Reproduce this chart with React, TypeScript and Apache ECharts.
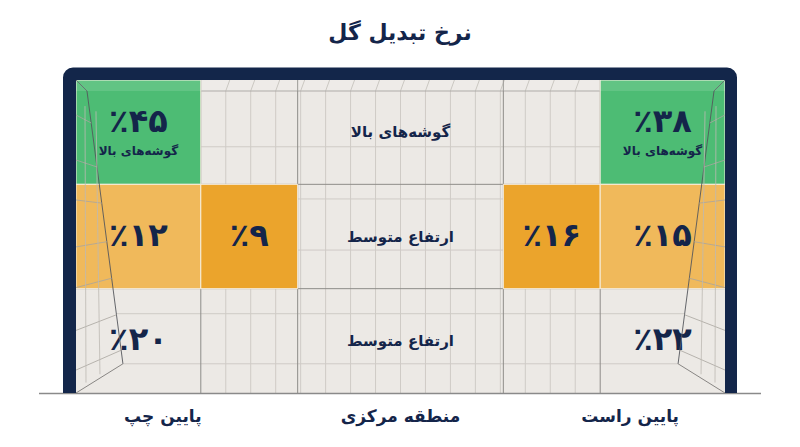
import { useEffect, useRef } from "react";
import * as echarts from "echarts";

const chartTitle = "نرخ تبدیل گل";
const rowLabels = ["گوشه‌های بالا", "ارتفاع متوسط", "ارتفاع متوسط"];
const bottomLabels = ["پایین چپ", "منطقه مرکزی", "پایین راست"];
const cornerNote = "گوشه‌های بالا";

// per row: left outer, left inner, right inner, right outer
const topRow = [45, null, null, 38];
const midRow = [12, 9, 16, 15];
const lowRow = [20, null, null, 22];
const topTier = ["high", "", "", "high"];
const midTier = ["mid", "strong", "strong", "mid"];
const lowTier = ["", "", "", ""];

const rows = [topRow, midRow, lowRow];
const tiers = [topTier, midTier, lowTier];

// layout (x units of the hidden value axis)
const colEdges = [0, 1.25, 2.22, 4.28, 5.25, 6.5];
const valueCols = [0, 1, 3, 4];
const XMAX = 6.5;
const netY = [0.105, 0.64, 1.14, 1.63, 2.24, 2.72];
const fans = [
  [0.335, 0.412],
  [0.767, 0.834],
  [1.15, 1.18],
  [1.6, 1.55],
  [1.99, 1.9],
  [2.4, 2.25],
  [2.78, 2.59],
];

const fills: Record<string, string> = { high: "#4dbc74", mid: "#f0b95b", strong: "#eba42c" };
const ink = "#14254a";
const navy = "#13264a";
const font = "DejaVu Sans";

const toFa = (n: number) => String(n).replace(/\d/g, (d) => "۰۱۲۳۴۵۶۷۸۹"[+d]);

const cells: any[] = [];
rows.forEach((r, ri) =>
  r.forEach((v, i) => {
    if (v == null && !tiers[ri][i]) return;
    cells.push({ value: [valueCols[i], ri, v == null ? 0 : v], tier: tiers[ri][i], has: v != null, note: ri === 0 });
  })
);

const backX = (y: number) => 0.11 + ((y - 0.105) * (0.47 - 0.11)) / (2.72 - 0.105);

const App = () => {
  const chartRef = useRef<HTMLDivElement>(null);

  useEffect(() => {
    document.body.style.margin = "0";
    const chart = echarts.init(chartRef.current!, undefined, { renderer: "svg" });

    const line = (api: any, a: number[], b: number[], stroke: string, lw = 1) => {
      const p = api.coord(a);
      const q = api.coord(b);
      return { type: "line", shape: { x1: p[0], y1: p[1], x2: q[0], y2: q[1] }, style: { stroke, lineWidth: lw } };
    };

    chart.setOption({
      animation: false,
      title: {
        text: chartTitle,
        left: "center",
        top: 16,
        textStyle: { fontSize: 22, fontWeight: "bold", fontFamily: font, color: ink },
      },
      grid: { left: 76, right: 75, top: 80, bottom: 54 },
      xAxis: { type: "value", min: 0, max: XMAX, show: false },
      yAxis: { type: "value", min: 0, max: 3, inverse: true, show: false },
      series: [
        {
          // back net
          type: "custom",
          z: 1,
          silent: true,
          data: [[0, 0]],
          renderItem: (_p: any, api: any) => {
            const tl = api.coord([0, 0]);
            const br = api.coord([XMAX, 3]);
            const ch: any[] = [
              { type: "rect", shape: { x: tl[0], y: tl[1], width: br[0] - tl[0], height: br[1] - tl[1] }, style: { fill: "#ece9e5" } },
            ];
            for (let x = 0.25; x < XMAX; x += 0.25) {
              if (x <= colEdges[1] + 0.01 || x >= colEdges[4] - 0.01) continue;
              ch.push(line(api, [x, 0.105], [x, 3], "#cfcbc6"));
              ch.push(line(api, [x, 0.105], [x + 0.04, 0], "#c4c0ba"));
            }
            netY.forEach((y) => {
              const bx = backX(y);
              ch.push(line(api, [bx, y], [XMAX - bx, y], y < 0.2 ? "#a9a6a2" : "#cfcbc6"));
            });
            [1, 2].forEach((y) => ch.push(line(api, [0, y], [XMAX, y], "#8e8c89")));
            colEdges.slice(1, 5).forEach((x) => ch.push(line(api, [x, 0], [x, 3], "#8e8c89")));
            return { type: "group", children: ch };
          },
        },
        {
          // zone cells
          type: "custom",
          z: 2,
          silent: true,
          data: cells,
          renderItem: (params: any, api: any) => {
            const item = cells[params.dataIndex];
            const col = api.value(0);
            const row = api.value(1);
            const v = api.value(2);
            const p0 = api.coord([colEdges[col], row]);
            const p1 = api.coord([colEdges[col + 1], row + 1]);
            const cx = (p0[0] + p1[0]) / 2;
            const cy = (p0[1] + p1[1]) / 2;
            const ch: any[] = [];
            if (item.tier) {
              ch.push({
                type: "rect",
                shape: { x: p0[0], y: p0[1], width: p1[0] - p0[0], height: p1[1] - p0[1] },
                style: { fill: fills[item.tier], stroke: "#f7efdf", lineWidth: 1 },
              });
            }
            if (item.has) {
              ch.push({
                type: "text",
                x: cx,
                y: item.note ? cy - 11 : cy - 2,
                style: { text: "٪" + toFa(v), fill: ink, font: `bold 32px "${font}"`, align: "center", verticalAlign: "middle" },
              });
              if (item.note) {
                ch.push({
                  type: "text",
                  x: cx,
                  y: cy + 19,
                  style: { text: cornerNote, fill: ink, font: `bold 12px "${font}"`, align: "center", verticalAlign: "middle" },
                });
              }
            }
            return { type: "group", children: ch };
          },
        },
        {
          // side nets, frame, ground
          type: "custom",
          z: 3,
          silent: true,
          data: [[0, 0]],
          renderItem: (_p: any, api: any) => {
            const ch: any[] = [];
            const tl = api.coord([0, 0]);
            const br = api.coord([XMAX, 3]);
            [false, true].forEach((mirror) => {
              const m = (x: number) => (mirror ? XMAX - x : x);
              ch.push(line(api, [m(0), 0], [m(0.11), 0.105], "#55575c", 0.9));
              ch.push(line(api, [m(0.11), 0.105], [m(0.47), 2.72], "#55575c", 0.9));
              ch.push(line(api, [m(0.47), 2.72], [m(0), 3], "#7d7b78", 0.9));
              fans.forEach(([a, b]) => ch.push(line(api, [m(0), a], [m(backX(b)), b], "#a8a49e", 0.8)));
              ch.push(line(api, [m(0.09), 0.25], [m(0.1), 2.9], "#bdb9b3", 0.8));
              ch.push(line(api, [m(0.2), 0.3], [m(0.24), 2.82], "#bdb9b3", 0.8));
            });
            ch.push({
              type: "rect",
              shape: { x: tl[0], y: tl[1], width: br[0] - tl[0], height: api.coord([0, 0.105])[1] - tl[1] },
              style: { fill: "rgba(255,255,255,0.12)" },
            });
            ch.push({ type: "line", shape: { x1: tl[0] - 37, y1: br[1] + 0.5, x2: br[0] + 36, y2: br[1] + 0.5 }, style: { stroke: "#8a8a8a", lineWidth: 1.5 } });
            ch.push({ type: "rect", shape: { x: tl[0] - 13, y: tl[1] - 12.5, width: br[0] - tl[0] + 25, height: 12.5, r: [10, 10, 0, 0] }, style: { fill: navy } });
            ch.push({ type: "rect", shape: { x: tl[0] - 13, y: tl[1] - 1, width: 13, height: br[1] - tl[1] + 1 }, style: { fill: navy } });
            ch.push({ type: "rect", shape: { x: br[0], y: tl[1] - 1, width: 12, height: br[1] - tl[1] + 1 }, style: { fill: navy } });
            return { type: "group", children: ch };
          },
        },
        {
          // row labels in the centre zone and zone names under the goal
          type: "custom",
          z: 4,
          silent: true,
          data: rowLabels.map((_, i) => [i, i]),
          renderItem: (params: any, api: any) => {
            const i = params.dataIndex;
            const c = api.coord([(colEdges[2] + colEdges[3]) / 2, i + 0.5]);
            const base = api.coord([0, 3]);
            const bx = [0.87, XMAX / 2, 5.55];
            return {
              type: "group",
              children: [
                {
                  type: "text",
                  x: c[0],
                  y: c[1],
                  style: { text: rowLabels[i], fill: ink, font: `bold 15px "${font}"`, align: "center", verticalAlign: "middle" },
                },
                {
                  type: "text",
                  x: api.coord([bx[i], 3])[0],
                  y: base[1] + 23,
                  style: { text: bottomLabels[i], fill: ink, font: `bold 17px "${font}"`, align: "center", verticalAlign: "middle" },
                },
              ],
            };
          },
        },
      ],
    });

    return () => {
      chart.dispose();
    };
  }, []);

  return <div ref={chartRef} style={{ width: 800, height: 447 }} />;
};

export default App;
